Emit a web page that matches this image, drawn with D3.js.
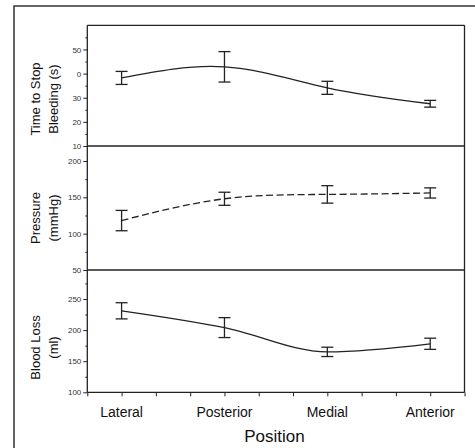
<!DOCTYPE html>
<html>
<head>
<meta charset="utf-8">
<script src="https://cdn.jsdelivr.net/npm/d3@7"></script>
<style>
  html, body { margin: 0; padding: 0; background: #fff; }
  svg { display: block; }
  text { font-family: Arial, "Liberation Sans", sans-serif; }
</style>
</head>
<body>
<svg id="chart" width="475" height="448"></svg>
<script>
// ---- data ----
const categories = ["Lateral", "Posterior", "Medial", "Anterior"];

const bleedMean = [38.2, 42.8, 34.1, 27.5];
const bleedErr  = [2.7, 6.3, 2.7, 1.4];

const pressMean = [118, 148, 154, 156];
const pressErr  = [14, 9, 12, 7];

const lossMean = [231, 204, 165, 178];
const lossErr  = [13, 16, 7.5, 9];

const bleedTicks = [10, 20, 30, 40, 50];
const bleedTickLabels = ["10", "20", "30", "0", "50"];
const bleedMinor = [15, 25, 35, 45, 55];

const pressTicks = [50, 100, 150, 200];
const pressTickLabels = ["50", "100", "150", "200"];
const pressMinor = [75, 125, 175];

const lossTicks = [100, 150, 200, 250];
const lossTickLabels = ["100", "150", "200", "250"];
const lossMinor = [125, 175, 225, 275];

// ---- layout ----
const svg = d3.select("#chart");
const left = 87.3, right = 464.5;
const ink = "#222";

// outer frame
svg.append("rect").attr("x", 14).attr("y", 6).attr("width", 480).attr("height", 460)
  .attr("fill", "none").attr("stroke", "#333").attr("stroke-width", 1.5);

const x = d3.scaleLinear().domain([0, 11]).range([left, right]);
const catX = i => x(1 + 3 * i);

const panels = [
  { mean: bleedMean, err: bleedErr, domain: [10, 60], range: [146, 25.3],
    ticks: bleedTicks, labels: bleedTickLabels, minor: bleedMinor,
    title: ["Time to Stop", "Bleeding (s)"], titleY: 99, curve: d3.curveNatural, dash: null },
  { mean: pressMean, err: pressErr, domain: [50, 220.6], range: [270, 146],
    ticks: pressTicks, labels: pressTickLabels, minor: pressMinor,
    title: ["Pressure", "(mmHg)"], titleY: 218, curve: d3.curveNatural, dash: "7,3.5" },
  { mean: lossMean, err: lossErr, domain: [100, 296.6], range: [392.3, 270],
    ticks: lossTicks, labels: lossTickLabels, minor: lossMinor,
    title: ["Blood Loss", "(ml)"], titleY: 347.5, curve: d3.curveMonotoneX, dash: null }
];

panels.forEach(p => {
  const y = d3.scaleLinear().domain(p.domain).range(p.range);

  // major axis
  const ax = d3.axisLeft(y).tickValues(p.ticks).tickSize(4).tickPadding(2)
    .tickFormat((d, i) => p.labels[i]);
  const g = svg.append("g").attr("transform", `translate(${left},0)`).call(ax);
  g.select(".domain").remove();
  g.selectAll(".tick line").attr("stroke", ink).attr("stroke-width", 1);
  g.selectAll(".tick text").attr("fill", "#333").attr("font-size", 8)
    .attr("font-family", "Arial, 'Liberation Sans', sans-serif");

  // minor ticks
  const mg = svg.append("g").attr("transform", `translate(${left},0)`)
    .call(d3.axisLeft(y).tickValues(p.minor).tickSize(2).tickFormat(""));
  mg.select(".domain").remove();
  mg.selectAll(".tick line").attr("stroke", ink).attr("stroke-width", 1);

  // line
  const line = d3.line().x((d, i) => catX(i)).y(d => y(d)).curve(p.curve);
  svg.append("path").datum(p.mean).attr("d", line)
    .attr("fill", "none").attr("stroke", ink).attr("stroke-width", 1.3)
    .attr("stroke-dasharray", p.dash);

  // error bars
  const eb = svg.append("g").attr("stroke", ink).attr("stroke-width", 1.3);
  p.mean.forEach((m, i) => {
    const cx = catX(i), t = y(m + p.err[i]), b = y(m - p.err[i]);
    eb.append("line").attr("x1", cx).attr("x2", cx).attr("y1", t).attr("y2", b);
    eb.append("line").attr("x1", cx - 6).attr("x2", cx + 6).attr("y1", t).attr("y2", t);
    eb.append("line").attr("x1", cx - 6).attr("x2", cx + 6).attr("y1", b).attr("y2", b);
  });

  // panel frame lines (bottom separator)
  svg.append("line").attr("x1", left).attr("x2", right)
    .attr("y1", p.range[0]).attr("y2", p.range[0]).attr("stroke", ink).attr("stroke-width", 1.3);

  // title
  const tg = svg.append("text").attr("transform", `translate(0,${p.titleY}) rotate(-90)`)
    .attr("text-anchor", "middle").attr("font-size", 13).attr("fill", "#111");
  tg.append("tspan").attr("x", 0).attr("y", 40).text(p.title[0]);
  tg.append("tspan").attr("x", 0).attr("y", 57.5).text(p.title[1]);
});

// plot border: top, left, right
svg.append("line").attr("x1", left).attr("x2", right).attr("y1", 25.3).attr("y2", 25.3)
  .attr("stroke", ink).attr("stroke-width", 1.3);
svg.append("line").attr("x1", left).attr("x2", left).attr("y1", 25.3).attr("y2", 392.3)
  .attr("stroke", ink).attr("stroke-width", 1.3);
svg.append("line").attr("x1", right).attr("x2", right).attr("y1", 25.3).attr("y2", 392.3)
  .attr("stroke", ink).attr("stroke-width", 1.3);

// x axis
const xg = svg.append("g").attr("transform", "translate(0,392.3)")
  .call(d3.axisBottom(x).tickValues(d3.range(0, 12)).tickSize(4).tickFormat(""));
xg.select(".domain").remove();
xg.selectAll(".tick line").attr("stroke", ink).attr("stroke-width", 1);

categories.forEach((c, i) => {
  svg.append("text").attr("x", catX(i)).attr("y", 416.5).attr("text-anchor", "middle")
    .attr("font-size", 14).attr("fill", "#111").text(c);
});

svg.append("text").attr("x", (left + right) / 2 - 1.5).attr("y", 441.5).attr("text-anchor", "middle")
  .attr("font-size", 17).attr("fill", "#111").text("Position");
</script>
</body>
</html>
